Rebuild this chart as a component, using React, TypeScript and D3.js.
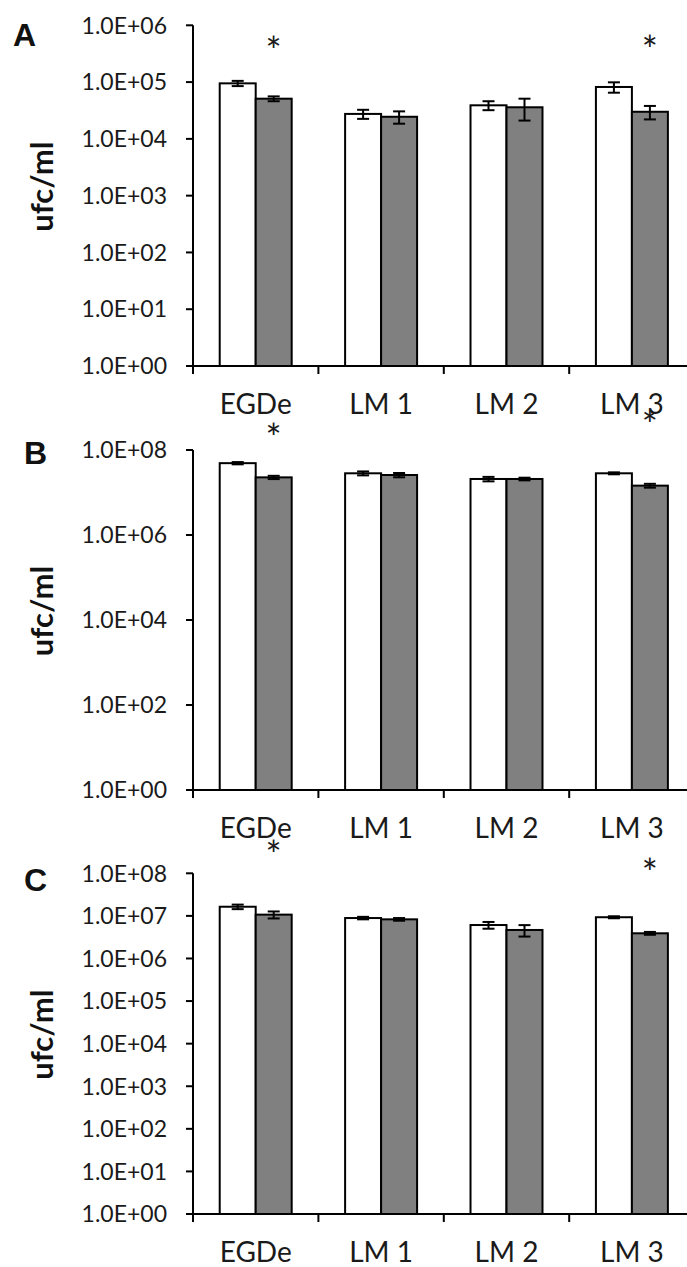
import React from "react";
import * as d3 from "d3";

// categories and series values (ufc/ml)
const categories = ["EGDe", "LM 1", "LM 2", "LM 3"];
const seriesKeys = ["open", "filled"];

const aOpen = [9.5e4, 2.75e4, 3.9e4, 8.2e4];
const aOpenSd = [1e4, 5e3, 7e3, 1.7e4];
const aFilled = [5.1e4, 2.45e4, 3.6e4, 3.0e4];
const aFilledSd = [5e3, 6e3, 1.5e4, 8e3];

const bOpen = [4.9e7, 2.83e7, 2.08e7, 2.83e7];
const bOpenSd = [3e6, 3e6, 2.5e6, 1.5e6];
const bFilled = [2.27e7, 2.58e7, 2.08e7, 1.45e7];
const bFilledSd = [2e6, 3e6, 1.5e6, 1.5e6];

const cOpen = [1.64e7, 8.9e6, 6.1e6, 9.3e6];
const cOpenSd = [2e6, 6e5, 1.1e6, 5e5];
const cFilled = [1.07e7, 8.3e6, 4.67e6, 3.9e6];
const cFilledSd = [2e6, 6e5, 1.4e6, 3e5];

// significant difference marks (on the filled bar)
const aStars = [true, false, false, true];
const bStars = [true, false, false, true];
const cStars = [true, false, false, true];

const aTicks = [1e0, 1e1, 1e2, 1e3, 1e4, 1e5, 1e6];
const bTicks = [1e0, 1e2, 1e4, 1e6, 1e8];
const cTicks = [1e0, 1e1, 1e2, 1e3, 1e4, 1e5, 1e6, 1e7, 1e8];

const W = 687;
const H = 1267;
const left = 193;
const right = 694.6;
const font = "Lato, 'Open Sans', sans-serif";

const fmt = (v: number) => {
  const e = Math.round(Math.log10(v));
  return `1.0E+${String(e).padStart(2, "0")}`;
};

const panels = [
  { letter: "A", top: 25.3, bottom: 366, max: 1e6, ticks: aTicks, open: aOpen, openSd: aOpenSd, filled: aFilled, filledSd: aFilledSd, stars: aStars, starY: [43, 42], letterX: 13, letterY: 46 },
  { letter: "B", top: 450, bottom: 790, max: 1e8, ticks: bTicks, open: bOpen, openSd: bOpenSd, filled: bFilled, filledSd: bFilledSd, stars: bStars, starY: [430, 417], letterX: 24, letterY: 464 },
  { letter: "C", top: 873.3, bottom: 1214, max: 1e8, ticks: cTicks, open: cOpen, openSd: cOpenSd, filled: cFilled, filledSd: cFilledSd, stars: cStars, starY: [847, 865], letterX: 24, letterY: 891 },
];

const x0 = d3
  .scaleBand<string>()
  .domain(categories)
  .range([left, right])
  .paddingInner(0.426)
  .paddingOuter(0.213);

const x1 = d3.scaleBand<string>().domain(seriesKeys).range([0, x0.bandwidth()]);

const Panel = ({ p }: { p: (typeof panels)[number] }) => {
  const y = d3.scaleLog().domain([1, p.max]).range([p.bottom, p.top]);
  const boundaries = d3.range(categories.length + 1).map((i) => left + i * x0.step());
  const capW = 12;

  const series = [
    { key: "open", vals: p.open, sd: p.openSd, fill: "#ffffff" },
    { key: "filled", vals: p.filled, sd: p.filledSd, fill: "#808080" },
  ];

  let starIdx = 0;

  return (
    <g>
      <text x={p.letterX} y={p.letterY} fontFamily="'Liberation Sans', Arial, sans-serif" fontWeight="bold" fontSize={32} fill="#111">
        {p.letter}
      </text>
      <text
        transform={`translate(53,${(p.top + p.bottom) / 2 - 9}) rotate(-90)`}
        textAnchor="middle"
        fontFamily={font}
        fontWeight="bold"
        fontSize={31}
        fill="#111"
      >
        ufc/ml
      </text>

      {/* bars */}
      {series.map((s) =>
        categories.map((c, i) => {
          const bx = (x0(c) ?? 0) + (x1(s.key) ?? 0);
          return (
            <rect
              key={s.key + c}
              x={bx}
              y={y(s.vals[i])}
              width={x1.bandwidth()}
              height={y(1) - y(s.vals[i])}
              fill={s.fill}
              stroke="#000"
              strokeWidth={2}
            />
          );
        })
      )}

      {/* error bars */}
      {series.map((s) =>
        categories.map((c, i) => {
          const cx = (x0(c) ?? 0) + (x1(s.key) ?? 0) + x1.bandwidth() / 2;
          const hi = y(s.vals[i] + s.sd[i]);
          const lo = y(s.vals[i] - s.sd[i]);
          return (
            <g key={"e" + s.key + c} stroke="#000" strokeWidth={2}>
              <line x1={cx} x2={cx} y1={hi} y2={lo} />
              <line x1={cx - capW / 2} x2={cx + capW / 2} y1={hi} y2={hi} />
              <line x1={cx - capW / 2} x2={cx + capW / 2} y1={lo} y2={lo} />
            </g>
          );
        })
      )}

      {/* y axis */}
      <line x1={left} x2={left} y1={p.top} y2={p.bottom + 8} stroke="#000" strokeWidth={2} />
      {p.ticks.map((t) => (
        <g key={t}>
          <line x1={left - 7} x2={left} y1={y(t)} y2={y(t)} stroke="#000" strokeWidth={2} />
          <text x={167} y={y(t)} dy="0.36em" textAnchor="end" fontFamily={font} fontSize={23} fill="#1a1a1a">
            {fmt(t)}
          </text>
        </g>
      ))}

      {/* x axis */}
      <line x1={left} x2={right} y1={p.bottom} y2={p.bottom} stroke="#000" strokeWidth={2} />
      {boundaries.map((b) => (
        <line key={b} x1={b} x2={b} y1={p.bottom} y2={p.bottom + 8} stroke="#000" strokeWidth={2} />
      ))}
      {categories.map((c) => (
        <text
          key={c}
          x={(x0(c) ?? 0) + x0.bandwidth() / 2}
          y={p.bottom + 48}
          textAnchor="middle"
          fontFamily={font}
          fontSize={28}
          fill="#1a1a1a"
        >
          {c}
        </text>
      ))}

      {/* significance */}
      {categories.map((c, i) => {
        if (!p.stars[i]) return null;
        const cy = p.starY[starIdx++];
        const cx = (x0(c) ?? 0) + (x1("filled") ?? 0) + x1.bandwidth() / 2;
        return (
          <text key={"s" + c} x={cx} y={cy + 22} textAnchor="middle" fontFamily={font} fontSize={38} fill="#1a1a1a">
            *
          </text>
        );
      })}
    </g>
  );
};

export default function App() {
  return (
    <div>
      <style>{`body{margin:0}`}</style>
      <svg width={W} height={H} style={{ display: "block", overflow: "hidden" }}>
        <rect width={W} height={H} fill="#fff" />
        {panels.map((p) => (
          <Panel key={p.letter} p={p} />
        ))}
      </svg>
    </div>
  );
}
